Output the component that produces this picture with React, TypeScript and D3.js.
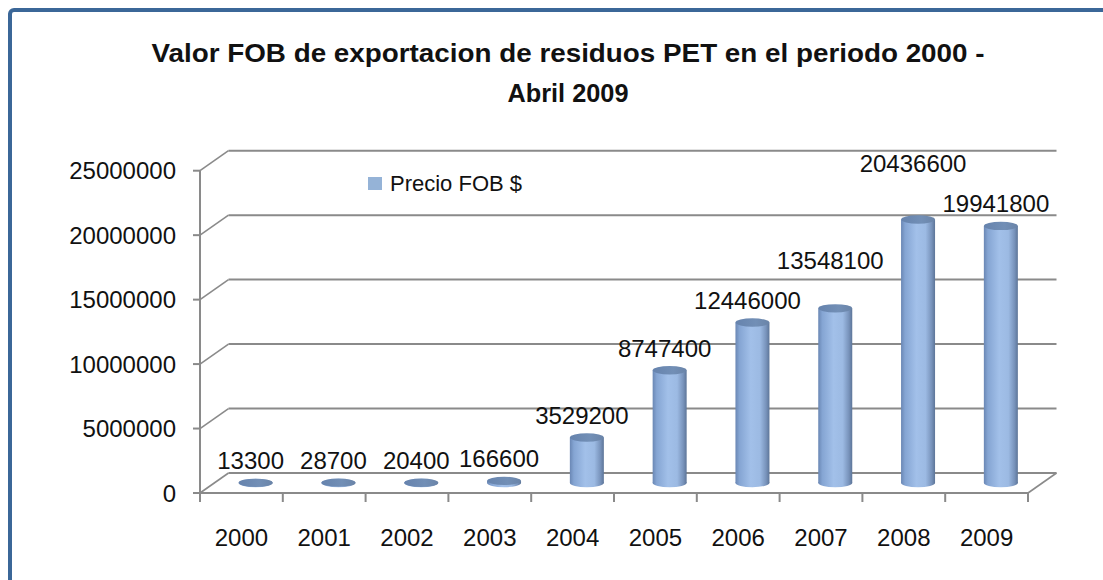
import React from "react";
import * as d3 from "d3";

const years = ["2000", "2001", "2002", "2003", "2004", "2005", "2006", "2007", "2008", "2009"];
const fobValues = [13300, 28700, 20400, 166600, 3529200, 8747400, 12446000, 13548100, 20436600, 19941800];
const yTicks = [0, 5000000, 10000000, 15000000, 20000000, 25000000];
const titleLines = ["Valor FOB de exportacion de residuos PET en el periodo 2000 -", "Abril 2009"];
const seriesName = "Precio FOB $";

const W = 1103;
const H = 580;
const FONT = "'Liberation Sans', Arial, sans-serif";
const GRID = "#8a8a8a";
const DX = 28.5;
const DY = -20;

export default function App() {
  const x = d3.scaleBand<string>().domain(years).range([200, 1028]).padding(0);
  const y = d3.scaleLinear().domain([0, 25000000]).range([493, 170.7]);
  const bw = x.bandwidth();
  const rx = 17;
  const ry = 4.2;

  const labels = fobValues.map((v, i) => {
    const cx = (x(years[i]) as number) + bw / 2 + DX / 2;
    const top = y(v) + DY / 2;
    const text = String(v);
    return { cx, top, text, lx: cx - 5, ly: top - 22, w: text.length * 13.3 };
  });
  // collision avoidance: place lowest labels first, lift the higher one of a colliding pair
  const order = labels.map((_, i) => i).sort((a, b) => labels[b].ly - labels[a].ly);
  const placed: typeof labels = [];
  for (const i of order) {
    const a = labels[i];
    let moved = true;
    while (moved) {
      moved = false;
      for (const b of placed) {
        const overlapX = a.lx + a.w / 2 > b.lx - b.w / 2 && a.lx - a.w / 2 < b.lx + b.w / 2;
        if (overlapX && Math.abs(a.ly - b.ly) < 24) {
          a.ly = b.ly - 40;
          moved = true;
        }
      }
    }
    placed.push(a);
  }

  return (
    <svg
      width={W}
      height={H}
      style={{ position: "absolute", left: 0, top: 0, background: "#fff" }}
      fontFamily={FONT}
    >
      <defs>
        <linearGradient id="cylBody" x1="0" x2="1" y1="0" y2="0">
          <stop offset="0" stopColor="#6a87b4" />
          <stop offset="0.12" stopColor="#85a5d3" />
          <stop offset="0.45" stopColor="#a2c0e9" />
          <stop offset="0.72" stopColor="#9cbae3" />
          <stop offset="0.9" stopColor="#7893bb" />
          <stop offset="1" stopColor="#5d7598" />
        </linearGradient>
        <linearGradient id="cylTop" x1="0" x2="1" y1="0" y2="0">
          <stop offset="0" stopColor="#6683ad" />
          <stop offset="0.6" stopColor="#728fb6" />
          <stop offset="1" stopColor="#6a84a8" />
        </linearGradient>
      </defs>

      <rect x={10} y={10} width={W + 20} height={H + 20} rx={4} fill="#fff" stroke="#3b6798" strokeWidth={4} />

      {/* title */}
      <text x={568} y={62} textAnchor="middle" fontSize={25} fontWeight="bold" fill="#111" textLength={833} lengthAdjust="spacingAndGlyphs">
        {titleLines[0]}
      </text>
      <text x={568} y={102} textAnchor="middle" fontSize={25} fontWeight="bold" fill="#111" textLength={121} lengthAdjust="spacingAndGlyphs">
        {titleLines[1]}
      </text>

      {/* back wall gridlines and left wall diagonals */}
      {yTicks.map((t) => (
        <g key={t}>
          <line x1={200 + DX} x2={1028 + DX} y1={y(t) + DY} y2={y(t) + DY} stroke={GRID} strokeWidth={2} />
          <line x1={200} x2={200 + DX} y1={y(t)} y2={y(t) + DY} stroke={GRID} strokeWidth={1.6} />
          <line x1={193} x2={200} y1={y(t)} y2={y(t)} stroke={GRID} strokeWidth={2} />
          <text x={176} y={y(t) + 8.5} textAnchor="end" fontSize={24} fill="#111">
            {t}
          </text>
        </g>
      ))}
      <line x1={1028} x2={1028 + DX} y1={493} y2={493 + DY} stroke={GRID} strokeWidth={1.6} />

      {/* axes */}
      <line x1={200} x2={200} y1={y(25000000)} y2={493} stroke={GRID} strokeWidth={2} />
      <line x1={200} x2={1028} y1={493} y2={493} stroke={GRID} strokeWidth={2} />
      {years.map((yr) => (
        <line key={"t" + yr} x1={x(yr) as number} x2={x(yr) as number} y1={493} y2={502} stroke={GRID} strokeWidth={2} />
      ))}
      <line x1={1028} x2={1028} y1={493} y2={502} stroke={GRID} strokeWidth={2} />
      {years.map((yr) => (
        <text key={"c" + yr} x={(x(yr) as number) + bw / 2} y={546} textAnchor="middle" fontSize={24} fill="#111">
          {yr}
        </text>
      ))}

      {/* cylinders */}
      {labels.map((l, i) => {
        const base = y(0) + DY / 2;
        const top = l.top;
        return (
          <g key={"b" + i}>
            <ellipse cx={l.cx} cy={base} rx={rx} ry={ry} fill="url(#cylBody)" />
            <rect x={l.cx - rx} y={top} width={rx * 2} height={Math.max(0, base - top)} fill="url(#cylBody)" />
            <ellipse cx={l.cx} cy={top} rx={rx} ry={ry} fill="url(#cylTop)" />
          </g>
        );
      })}

      {/* data labels */}
      {labels.map((l, i) => (
        <text key={"l" + i} x={l.lx} y={l.ly + 8.5} textAnchor="middle" fontSize={24} fill="#111">
          {l.text}
        </text>
      ))}

      {/* legend */}
      <rect x={368} y={177} width={14} height={13} fill="#95b3d7" />
      <text x={390} y={191} fontSize={22} fill="#111">
        {seriesName}
      </text>
    </svg>
  );
}
